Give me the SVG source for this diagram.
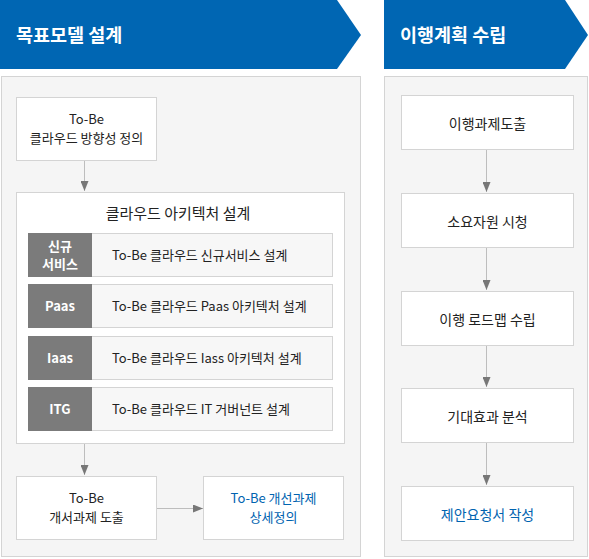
<svg xmlns="http://www.w3.org/2000/svg" width="589" height="559" viewBox="0 0 589 559">
<defs>
<style>
text{font-family:"Noto Sans CJK KR","Noto Sans",sans-serif;}
.hdr{fill:#0066b3;}
.hdrt{fill:#fff;font-size:18.5px;font-weight:700;}
.panel{fill:#f5f5f5;stroke:#d4d4d4;stroke-width:1;}
.box{fill:#fff;stroke:#d4d4d4;stroke-width:1;}
.row{fill:#f7f7f7;stroke:#d4d4d4;stroke-width:1;}
.tag{fill:#7b7b7b;}
.t{font-size:13px;fill:#222;text-anchor:middle;}
.t14{font-size:14px;fill:#222;text-anchor:middle;}
.t15{font-size:15px;fill:#222;text-anchor:middle;}
.tl{font-size:13px;fill:#222;}
.tb{font-size:13px;fill:#0063b0;text-anchor:middle;}
.tb14{font-size:14px;fill:#0063b0;text-anchor:middle;}
.tw{font-size:13px;fill:#fff;text-anchor:middle;font-weight:700;}
.ln{stroke:#bdbdbd;stroke-width:1;fill:none;}
</style>
<marker id="ah" viewBox="0 0 10 8" refX="10" refY="4" markerWidth="10" markerHeight="8" markerUnits="userSpaceOnUse" orient="auto">
<path d="M0,0 L10,4 L0,8 Z" fill="#777"/>
</marker>
</defs>

<g id="header-left">
<polygon class="hdr" points="0,0 337,0 361,35 337,69 0,69"/>
<text class="hdrt" x="16" y="42">목표모델 설계</text>
</g>
<g id="header-right">
<polygon class="hdr" points="384,0 565,0 588,35 565,69 384,69"/>
<text class="hdrt" x="400" y="42">이행계획 수립</text>
</g>

<g id="panel-left"><rect class="panel" x="1.5" y="76.5" width="359" height="480"/></g>
<g id="panel-right"><rect class="panel" x="384.5" y="76.5" width="203" height="480"/></g>

<g id="connectors">
<line class="ln" x1="84.5" y1="161" x2="84.5" y2="191" marker-end="url(#ah)"/>
<line class="ln" x1="84.5" y1="444" x2="84.5" y2="475" marker-end="url(#ah)"/>
<line class="ln" x1="157" y1="508.5" x2="203" y2="508.5" marker-end="url(#ah)"/>
<line class="ln" x1="486.5" y1="149" x2="486.5" y2="192" marker-end="url(#ah)"/>
<line class="ln" x1="486.5" y1="247" x2="486.5" y2="290" marker-end="url(#ah)"/>
<line class="ln" x1="486.5" y1="345" x2="486.5" y2="387" marker-end="url(#ah)"/>
<line class="ln" x1="486.5" y1="442" x2="486.5" y2="485" marker-end="url(#ah)"/>
</g>

<g id="node-direction">
<rect class="box" x="16.5" y="97.5" width="140" height="63"/>
<text class="t" x="86.5" y="124">To-Be</text>
<text class="t" x="86.5" y="143">클라우드 방향성 정의</text>
</g>

<g id="node-architecture">
<rect class="box" x="16.5" y="192.5" width="328" height="251"/>
<text class="t15" x="178" y="219">클라우드 아키텍처 설계</text>
</g>

<g id="row-new-service">
<rect class="row" x="28.5" y="233.5" width="304" height="43"/>
<rect class="tag" x="28" y="233" width="64" height="44"/>
<text class="tw" x="60" y="251">신규</text>
<text class="tw" x="60" y="269">서비스</text>
<text class="tl" x="112" y="260">To-Be 클라우드 신규서비스 설계</text>
</g>
<g id="row-paas">
<rect class="row" x="28.5" y="284.5" width="304" height="43"/>
<rect class="tag" x="28" y="284" width="64" height="44"/>
<text class="tw" x="60" y="311">Paas</text>
<text class="tl" x="112" y="311">To-Be 클라우드 Paas 아키텍처 설계</text>
</g>
<g id="row-iaas">
<rect class="row" x="28.5" y="336.5" width="304" height="43"/>
<rect class="tag" x="28" y="336" width="64" height="44"/>
<text class="tw" x="60" y="363">Iaas</text>
<text class="tl" x="112" y="363">To-Be 클라우드 Iass 아키텍처 설계</text>
</g>
<g id="row-itg">
<rect class="row" x="28.5" y="387.5" width="304" height="43"/>
<rect class="tag" x="28" y="387" width="64" height="44"/>
<text class="tw" x="60" y="414">ITG</text>
<text class="tl" x="112" y="414">To-Be 클라우드 IT 거버넌트 설계</text>
</g>

<g id="node-derive">
<rect class="box" x="16.5" y="476.5" width="140" height="63"/>
<text class="t" x="86.5" y="503">To-Be</text>
<text class="t" x="86.5" y="522">개서과제 도출</text>
</g>
<g id="node-detail">
<rect class="box" x="203.5" y="476.5" width="140" height="63"/>
<text class="tb" x="273.5" y="503">To-Be 개선과제</text>
<text class="tb" x="273.5" y="522">상세정의</text>
</g>

<g id="node-r1">
<rect class="box" x="401.5" y="95.5" width="172" height="54"/>
<text class="t14" x="487.5" y="129">이행과제도출</text>
</g>
<g id="node-r2">
<rect class="box" x="401.5" y="193.5" width="172" height="54"/>
<text class="t14" x="487.5" y="227">소요자원 시청</text>
</g>
<g id="node-r3">
<rect class="box" x="401.5" y="291.5" width="172" height="54"/>
<text class="t14" x="487.5" y="325">이행 로드맵 수립</text>
</g>
<g id="node-r4">
<rect class="box" x="401.5" y="388.5" width="172" height="54"/>
<text class="t14" x="487.5" y="422">기대효과 분석</text>
</g>
<g id="node-r5">
<rect class="box" x="401.5" y="486.5" width="172" height="54"/>
<text class="tb14" x="487.5" y="520">제안요청서 작성</text>
</g>
</svg>
